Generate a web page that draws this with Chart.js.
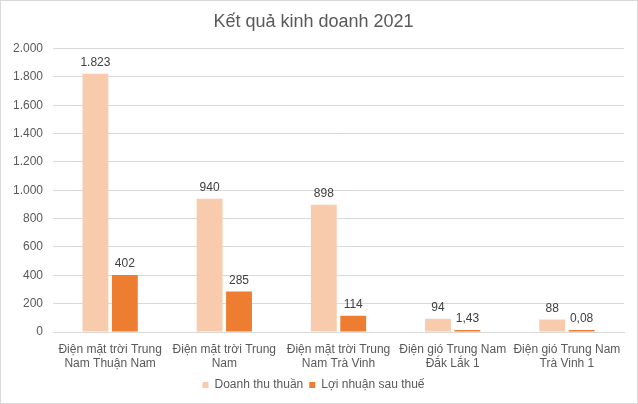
<!DOCTYPE html>
<html>
<head>
<meta charset="utf-8">
<script src="https://cdn.jsdelivr.net/npm/chart.js@4.4.1/dist/chart.umd.min.js"></script>
<style>
  body { margin: 0; background: #fff; }
  #wrap { position: relative; width: 636px; height: 402px; border: 1px solid #d9d9d9; background: #fff; }
</style>
</head>
<body>
<div id="wrap"><canvas id="kqChart"></canvas></div>
<script>
// data
const categories = [
    ['Điện mặt trời Trung', 'Nam Thuận Nam'],
    ['Điện mặt trời Trung', 'Nam'],
    ['Điện mặt trời Trung', 'Nam Trà Vinh'],
    ['Điện gió Trung Nam', 'Đắk Lắk 1'],
    ['Điện gió Trung Nam', 'Trà Vinh 1']
];
const doanhThu = [1823, 940, 898, 94, 88];
const loiNhuan = [402, 285, 114, 1.43, 0.08];
const seriesNames = ['Doanh thu thuần', 'Lợi nhuận sau thuế'];

const sans = '"Liberation Sans", Arial, sans-serif';

function fmtVN(v) {
    // 1823 -> 1.823, 1.43 -> 1,43
    if (Number.isInteger(v)) {
        return String(v).replace(/\B(?=(\d{3})+(?!\d))/g, '.');
    }
    return v.toFixed(2).replace('.', ',');
}

// value labels above bars
const barLabels = {
    id: 'barLabels',
    afterDatasetsDraw(chart) {
        const c = chart.ctx;
        c.save();
        c.font = '12px ' + sans;
        c.fillStyle = '#404040';
        c.textAlign = 'center';
        c.textBaseline = 'bottom';
        chart.data.datasets.forEach((ds, i) => {
            chart.getDatasetMeta(i).data.forEach((bar, j) => {
                c.fillText(fmtVN(ds.data[j]), bar.x, bar.y - 5);
            });
        });
        c.restore();
    }
};

const ctx = document.getElementById('kqChart').getContext('2d');
const kqChart = new Chart(ctx, {
    type: 'bar',
    data: {
        labels: categories,
        datasets: [{
            label: seriesNames[0],
            data: doanhThu,
            backgroundColor: '#F8CBAD',
            categoryPercentage: 0.515,
            barPercentage: 0.88
        }, {
            label: seriesNames[1],
            data: loiNhuan,
            backgroundColor: '#ED7D31',
            categoryPercentage: 0.515,
            barPercentage: 0.88,
            minBarLength: 2
        }]
    },
    options: {
        responsive: true,
        maintainAspectRatio: false,
        animation: false,
        layout: { padding: { left: 2, right: 13, top: 8, bottom: 2 } },
        plugins: {
            title: {
                display: true,
                text: 'Kết quả kinh doanh 2021',
                color: '#595959',
                font: { family: sans, size: 18, weight: 'normal' },
                padding: { top: 2, bottom: 16 }
            },
            legend: {
                position: 'bottom',
                labels: {
                    color: '#595959',
                    font: { family: sans, size: 12 },
                    boxWidth: 6,
                    boxHeight: 6,
                    padding: 6
                }
            },
            tooltip: { enabled: false }
        },
        scales: {
            x: {
                grid: { display: false },
                border: { color: '#d9d9d9' },
                ticks: {
                    color: '#595959',
                    font: { family: sans, size: 12, lineHeight: '13.5px' },
                    maxRotation: 0,
                    autoSkip: false,
                    padding: 3
                }
            },
            y: {
                min: 0,
                max: 2000,
                border: { display: false },
                grid: { color: '#d9d9d9', drawTicks: false },
                ticks: {
                    stepSize: 200,
                    color: '#595959',
                    font: { family: sans, size: 12 },
                    padding: 10,
                    callback: v => fmtVN(v)
                }
            }
        }
    },
    plugins: [barLabels]
});
</script>
</body>
</html>
